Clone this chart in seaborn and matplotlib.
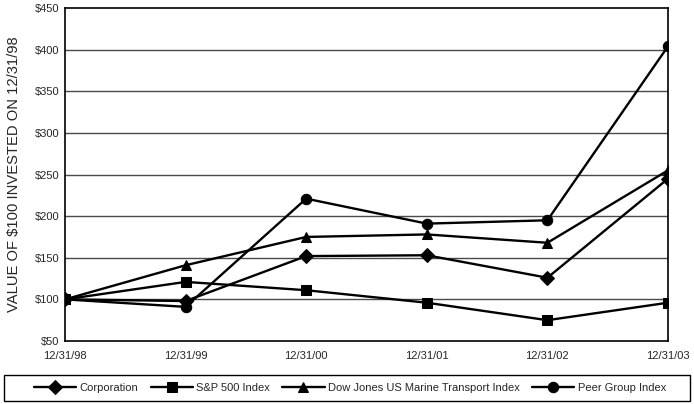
import matplotlib
matplotlib.use("Agg")
import matplotlib.pyplot as plt
import seaborn as sns
import pandas as pd
from matplotlib.patches import Rectangle

dates = ["12/31/98", "12/31/99", "12/31/00", "12/31/01", "12/31/02", "12/31/03"]
corporation = [100, 98, 152, 153, 126, 245]
sp500 = [100, 121, 111, 96, 75, 96]
dow_marine = [100, 141, 175, 178, 168, 255]
peer_group = [100, 91, 221, 191, 195, 404]

series_names = ["Corporation", "S&P 500 Index",
                "Dow Jones US Marine Transport Index", "Peer Group Index"]
series_values = [corporation, sp500, dow_marine, peer_group]
markers = {"Corporation": "D", "S&P 500 Index": "s",
           "Dow Jones US Marine Transport Index": "^", "Peer Group Index": "o"}
y_ticks = [50, 100, 150, 200, 250, 300, 350, 400, 450]

rows = []
for name, vals in zip(series_names, series_values):
    for d, v in zip(dates, vals):
        rows.append({"date": d, "value": v, "series": name})
df = pd.DataFrame(rows)

sns.set_style("white")
plt.rcParams["font.family"] = ["Liberation Sans", "DejaVu Sans"]

fig = plt.figure(figsize=(6.94, 4.04), dpi=100)
ax = fig.add_axes([65 / 694, 1 - 341 / 404, 603 / 694, 333 / 404])

for y in y_ticks[1:-1]:
    ax.axhline(y, color="#4a4a4a", lw=1.0, zorder=0)

sns.lineplot(data=df, x="date", y="value", hue="series", style="series",
             markers=markers, dashes=False,
             palette=["black"] * 4, hue_order=series_names,
             style_order=series_names, linewidth=1.7, markersize=7.5,
             markeredgecolor="black", ax=ax, legend=True, sort=False)

ax.set_xlim(0, len(dates) - 1)
ax.set_ylim(50, 450)
ax.set_yticks(y_ticks)
ax.set_yticklabels([f"${v}" for v in y_ticks], fontsize=8)
ax.set_xticks(range(len(dates)))
ax.set_xticklabels(dates, fontsize=8)
ax.tick_params(axis="x", direction="out", length=5, width=1, color="black", pad=2)
ax.tick_params(axis="y", length=0, pad=4)
ax.set_xlabel("")
ax.set_ylabel("VALUE OF $100 INVESTED ON 12/31/98", fontsize=10.6, labelpad=10)
for s in ax.spines.values():
    s.set_color("black")
    s.set_linewidth(1.2)

handles, labels = ax.get_legend_handles_labels()
ax.get_legend().remove()
fig.patches.append(Rectangle((4 / 694, 1 - 401 / 404), 686 / 694, 26 / 404,
                             transform=fig.transFigure, fill=False,
                             edgecolor="black", lw=1.0))
fig.legend(handles, labels, loc="center", bbox_to_anchor=(350 / 694, 1 - 388 / 404),
           ncol=4, frameon=False, fontsize=8, handlelength=3.8,
           columnspacing=1.1, handletextpad=0.3)

fig.savefig("out.png", dpi=100)
